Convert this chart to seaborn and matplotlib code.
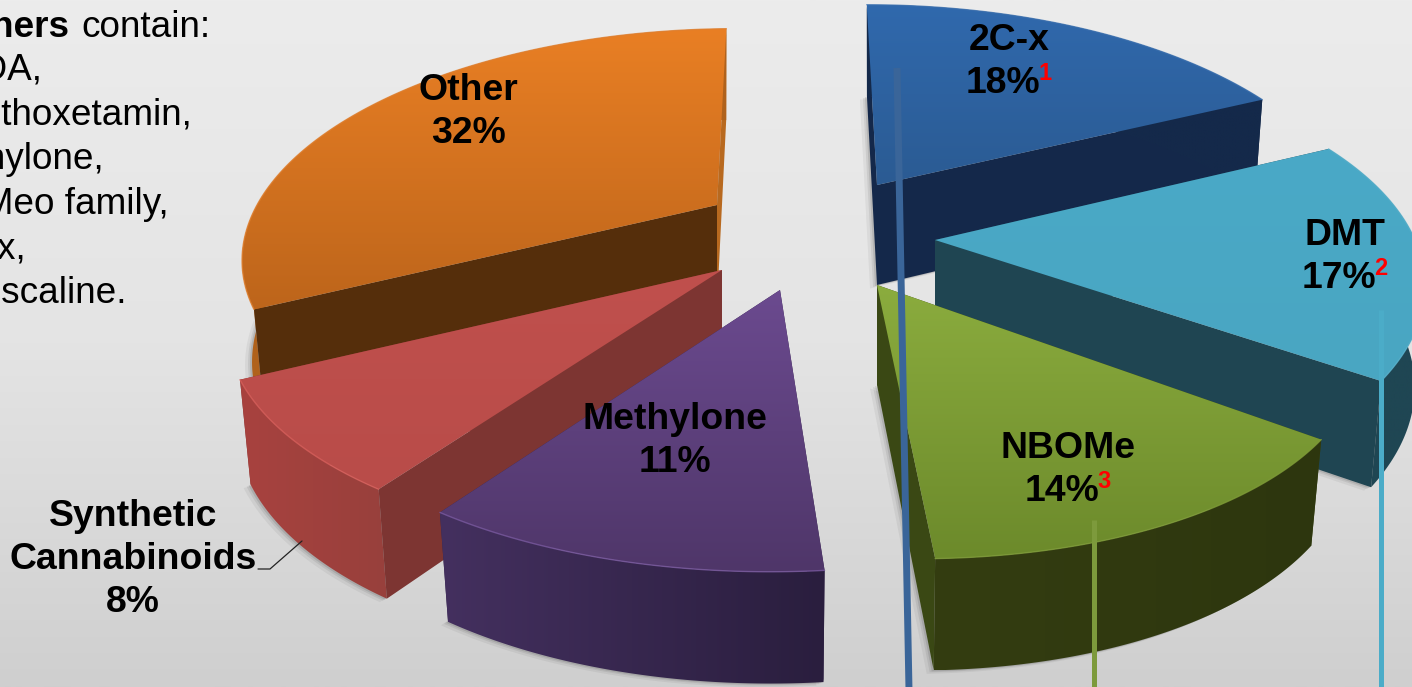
import numpy as np
import matplotlib
matplotlib.use('Agg')
import matplotlib.pyplot as plt
from matplotlib.colors import LinearSegmentedColormap
from matplotlib.patches import Polygon
import seaborn as sns

categories = ['2C-x', 'DMT', 'NBOMe', 'Methylone', 'Synthetic\nCannabinoids', 'Other']
values = [18, 17, 14, 11, 8, 32]
footnotes = ['1', '2', '3', '', '', '']
others_lines = ['MDA,', 'Methoxetamin,', 'Ethylone,', '5-Meo family,', 'Dox,', 'Mescaline.']

# look of the slices
top_light = ['#3069ad', '#4aa9c7', '#8bac3e', '#6b4a8f', '#c0504d', '#e97f24']
top_dark = ['#2b5b93', '#49a6c2', '#6c8a2b', '#4f3669', '#b94c49', '#bd651b']
wall_left = ['#14294a', '#1f4653', '#343d11', '#44305f', '#a8423f', '#b0621c']
wall_right = ['#14294a', '#1f4653', '#2d360e', '#2a1e3e', '#98403c', '#b0621c']
face_start = ['#14284a', '#1f4552', '#3a4814', '#33244a', '#7d3532', '#552e0b']
face_end = ['#14284a', '#1f4552', '#3a4814', '#33244a', '#7d3532', '#b8691f']
rim_colors = ['#3a70b0', '#55b0cc', '#7f9c38', '#7a5aa0', '#d8605c', '#e08030']
apex_x = [877, 935, 877, 780, 722, 717]
apex_y = [185, 240, 285, 290, 270, 205]
radius = [470, 480, 475, 490, 483, 460]
skew_x = [0, 0, 0.02, -0.035, -0.072, -0.11]
skew_y = [0.01, 0, 0.034, 0, 0, 0]
label_x = [1009, 1345, 1068, 675, 133, 468]
label_y = [50, 245, 458, 429, 526, 100]

TILT = 0.46
PERSPECTIVE = 0.2
START_ANGLE = -1.5
HEIGHT = 100
LINE = 43


def project(angles, scale, i):
    x = np.sin(np.radians(angles)) * scale
    y = -np.cos(np.radians(angles)) * scale
    f = 1 / (1 - PERSPECTIVE * y)
    dx = radius[i] * x * f
    dy = radius[i] * TILT * y * f
    return apex_x[i] + dx + skew_x[i] * dy, apex_y[i] + dy + skew_y[i] * dx


def lower(angles, scale, i):
    px, _ = project(angles, scale * 0.98, i)
    _, py = project(angles, scale, i)
    y = -np.cos(np.radians(angles)) * scale
    return px, py + HEIGHT / np.sqrt(1 - PERSPECTIVE * y)


def fill_gradient(ax, px, py, cmap, z, horizontal=False):
    poly = Polygon(np.c_[px, py], closed=True, fc='none', ec='none', zorder=z)
    ax.add_patch(poly)
    grad = np.linspace(0, 1, 200)
    grad = grad.reshape(1, -1) if horizontal else grad.reshape(-1, 1)
    im = ax.imshow(grad, cmap=cmap, aspect='auto', interpolation='bilinear',
                   extent=[px.min(), px.max(), py.max(), py.min()], zorder=z)
    im.set_clip_path(poly)


def draw_slice(ax, a0, a1, i):
    ox, oy = apex_x[i], apex_y[i]
    a = np.linspace(a0, a1, 120)
    tx, ty = project(a, 1, i)
    bx, by = lower(a, 1, i)
    b_ox, b_oy = lower(np.array([a0]), 0, i)
    z = 3 + order[i]

    # soft shadow below the slice
    for grow, alpha in zip([7, 4, 2], [0.05, 0.07, 0.1]):
        sx = np.r_[b_ox - grow, bx - grow]
        sy = np.r_[b_oy + grow / 2, by + grow / 2]
        ax.fill(sx, sy, color='black', alpha=alpha, lw=0, zorder=z - 0.5)

    # cut face at the end of the slice, outer wall, then cut face at its start
    ax.fill([ox, tx[-1], bx[-1], b_ox[0]], [oy, ty[-1], by[-1], b_oy[0]], color=face_end[i], lw=0, zorder=z)
    wall = LinearSegmentedColormap.from_list('wall', [wall_left[i], wall_right[i]])
    fill_gradient(ax, np.r_[tx, bx[::-1]], np.r_[ty, by[::-1]], wall, z + 0.1, horizontal=True)
    start_z = z + 0.15 if i in (1, 4, 5) else z
    ax.fill([ox, tx[0], bx[0], b_ox[0]], [oy, ty[0], by[0], b_oy[0]], color=face_start[i], lw=0, zorder=start_z)

    # top with vertical gradient
    top = LinearSegmentedColormap.from_list('top', [top_light[i], top_dark[i]])
    fill_gradient(ax, np.r_[ox, tx], np.r_[oy, ty], top, z + 0.2)
    ax.plot(tx, ty, color=rim_colors[i], lw=1, alpha=0.8, zorder=z + 0.3)


sns.set_theme(style='white')
plt.rcParams['font.family'] = ['Liberation Sans', 'DejaVu Sans']

fig = plt.figure(figsize=(14.12, 6.87), dpi=100)
ax = fig.add_axes([0, 0, 1, 1])

bg = LinearSegmentedColormap.from_list('bg', ['#ececec', '#e4e4e4', '#cfcfcf'])
ax.imshow(np.linspace(0, 1, 256).reshape(-1, 1), cmap=bg, aspect='auto', extent=[0, 1412, 687, 0], zorder=0)

# painter order, back to front
order = [1, 2, 5, 4, 3, 0]
edges = START_ANGLE + np.r_[0, np.cumsum(values)] * 3.6
for i in range(len(values)):
    draw_slice(ax, edges[i], edges[i + 1], i)

# leader lines running out of the picture
palette = sns.color_palette(['#3a6599', '#4bacc8', '#7d9a3c'])
ax.plot([897, 909], [68, 690], color=palette[0], lw=5, solid_capstyle='butt', zorder=20)
ax.plot([1381, 1381], [310, 690], color=palette[1], lw=3.6, solid_capstyle='butt', zorder=20)
ax.plot([1094, 1094], [520, 690], color=palette[2], lw=3.6, solid_capstyle='butt', zorder=20)
ax.plot([258, 270, 302], [569, 569, 541], color='#222222', lw=0.9, zorder=20)

# labels
for name, v, note, x, y in zip(categories, values, footnotes, label_x, label_y):
    rows = name.split('\n')
    for k, row in enumerate(rows):
        ax.text(x, y + k * LINE, row, ha='center', va='baseline', fontsize=26.9, fontweight='bold',
                color='black', zorder=25)
    y_val = y + len(rows) * LINE
    ax.text(x - 6 if note else x, y_val, str(v) + '%', ha='center', va='baseline', fontsize=26.9,
            fontweight='bold', color='black', zorder=25)
    if note:
        ax.text(x + 36, y_val - 13, note, ha='center', va='baseline', fontsize=17, fontweight='bold',
                color='red', zorder=26)

# text box cut by the left edge
ax.text(-50, 37, 'Others', ha='left', va='baseline', fontsize=26.6, fontweight='bold', color='black', zorder=25)
ax.text(81, 37, 'contain:', ha='left', va='baseline', fontsize=26.6, color='black', zorder=25)
for k, line in enumerate(others_lines):
    ax.text(-50, 80 + k * 44.6, line, ha='left', va='baseline', fontsize=26.6, color='black', zorder=25)

ax.set_xlim(0, 1412)
ax.set_ylim(687, 0)
ax.axis('off')
fig.savefig('out.png', dpi=100)
